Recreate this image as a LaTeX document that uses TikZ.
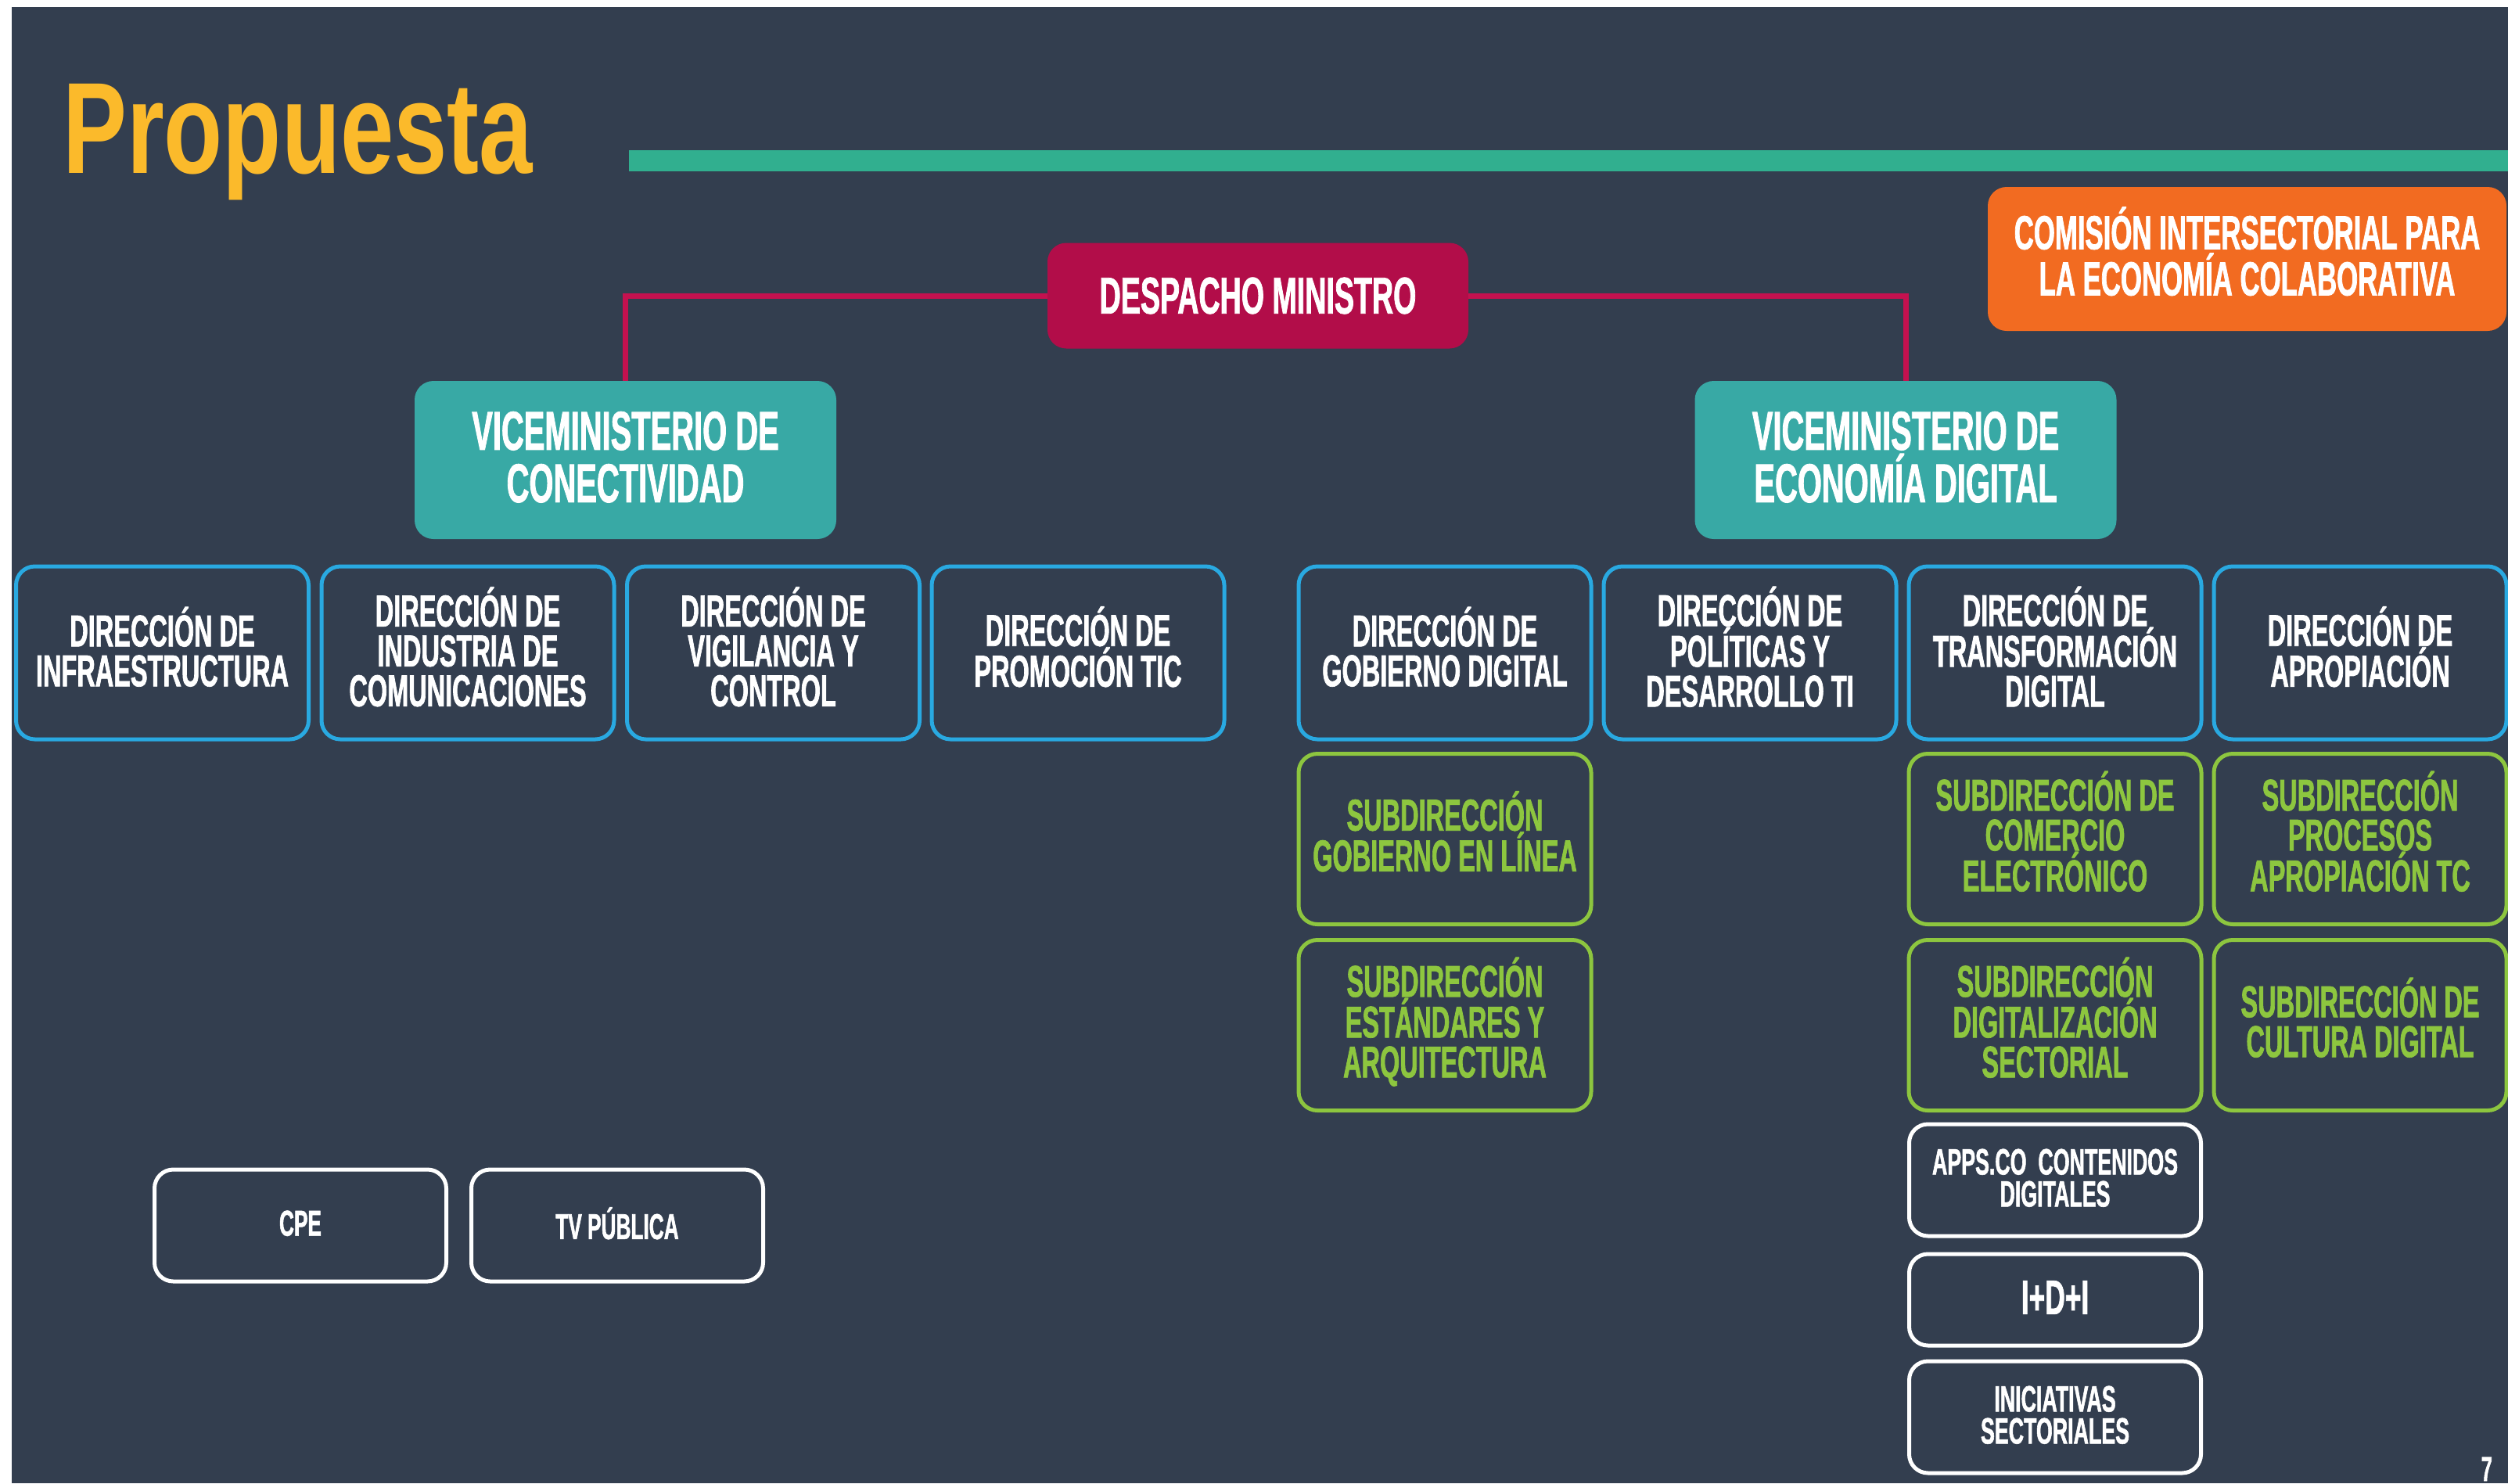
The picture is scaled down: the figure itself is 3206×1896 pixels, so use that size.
\documentclass[tikz,border=0pt]{standalone}
\usepackage{fontspec}
\setmainfont{Liberation Sans}
\newfontfamily\condfam[FakeStretch=0.57,FakeBold=1.2]{Liberation Sans}
\newfontfamily\titlefam[FakeStretch=0.74]{Liberation Sans}
\definecolor{bgc}{HTML}{333E4F}
\definecolor{ctitle}{HTML}{FBBA2B}
\definecolor{cline}{HTML}{31AF8F}
\definecolor{ccrim}{HTML}{B20D49}
\definecolor{cconn}{HTML}{C4114F}
\definecolor{cteal}{HTML}{38A9A5}
\definecolor{corange}{HTML}{F26B21}
\definecolor{cblue}{HTML}{29A9E1}
\definecolor{cgreen}{HTML}{8DC63F}
\newcommand\dirfont{\condfam\bfseries\fontsize{57}{51}\selectfont}
\newcommand\vicefont{\condfam\bfseries\fontsize{70}{67}\selectfont}
\newcommand\despfont{\condfam\bfseries\fontsize{66}{60}\selectfont}
\newcommand\comfont{\condfam\bfseries\fontsize{61}{59}\selectfont}
\newcommand\smallfont{\condfam\bfseries\fontsize{47}{41}\selectfont}
\tikzset{
  lift/.style={execute at end node={\rule[-#1]{0pt}{0pt}}},
  base/.style={rounded corners=24pt, align=center, inner sep=0pt, text=white},
  dirbox/.style={base, draw=cblue, line width=5pt, fill=bgc, font=\dirfont,
    minimum width=374pt, minimum height=221pt, lift=16pt},
  subbox/.style={base, draw=cgreen, line width=5pt, fill=bgc, text=cgreen, font=\dirfont,
    minimum width=374pt, minimum height=218pt, lift=20pt},
  whitebox/.style={base, draw=white, line width=5pt, fill=bgc, font=\smallfont,
    minimum width=373pt, minimum height=143pt, lift=6pt},
  vicebox/.style={base, fill=cteal, font=\vicefont, minimum width=539pt, minimum height=202pt, lift=8pt},
  conn/.style={draw=cconn, line width=7pt}
}
\begin{document}
\begin{tikzpicture}[x=1pt,y=-1pt]
\useasboundingbox (0,0) rectangle (3206,1896);
\fill[white] (0,0) rectangle (3206,1896);
\fill[bgc] (15,9) rectangle (3206,1896);
% title and rule
\node[anchor=base west, inner sep=0pt, text=ctitle, font={\titlefam\bfseries\fontsize{166}{170}\selectfont}] (title) at (80,221) {Propuesta};
\fill[cline] (804,192) rectangle (3206,219);
% top level
\node[base, fill=ccrim, font=\despfont, minimum width=538pt, minimum height=135pt] (desp) at (1608,378) {DESPACHO MINISTRO};
\node[vicebox] (vice1) at (799.5,588) {VICEMINISTERIO DE\\CONECTIVIDAD};
\node[vicebox] (vice2) at (2436,588) {VICEMINISTERIO DE\\ECONOMÍA DIGITAL};
\node[base, fill=corange, font=\comfont, minimum width=663pt, minimum height=184pt, lift=20pt] (com) at (2872.5,331) {COMISIÓN INTERSECTORIAL PARA\\LA ECONOMÍA COLABORATIVA};
\draw[conn] (desp.west) -| (vice1.north);
\draw[conn] (desp.east) -| (vice2.north);
% direcciones
\node[dirbox] (d1) at (207.5,834.5) {DIRECCIÓN DE\\INFRAESTRUCTURA};
\node[dirbox] (d2) at (598,834.5) {DIRECCIÓN DE\\INDUSTRIA DE\\COMUNICACIONES};
\node[dirbox] (d3) at (988.5,834.5) {DIRECCIÓN DE\\VIGILANCIA Y\\CONTROL};
\node[dirbox] (d4) at (1378,834.5) {DIRECCIÓN DE\\PROMOCIÓN TIC};
\node[dirbox] (d5) at (1847,834.5) {DIRECCIÓN DE\\GOBIERNO DIGITAL};
\node[dirbox] (d6) at (2237,834.5) {DIRECCIÓN DE\\POLÍTICAS Y\\DESARROLLO TI};
\node[dirbox] (d7) at (2627,834.5) {DIRECCIÓN DE\\TRANSFORMACIÓN\\DIGITAL};
\node[dirbox] (d8) at (3017,834.5) {DIRECCIÓN DE\\APROPIACIÓN};
% subdirecciones
\node[subbox] (s51) at (1847,1072.5) {SUBDIRECCIÓN\\GOBIERNO EN LÍNEA};
\node[subbox] (s52) at (1847,1310.5) {SUBDIRECCIÓN\\ESTÁNDARES Y\\ARQUITECTURA};
\node[subbox] (s71) at (2627,1072.5) {SUBDIRECCIÓN DE\\COMERCIO\\ELECTRÓNICO};
\node[subbox] (s72) at (2627,1310.5) {SUBDIRECCIÓN\\DIGITALIZACIÓN\\SECTORIAL};
\node[subbox] (s81) at (3017,1072.5) {SUBDIRECCIÓN\\PROCESOS\\APROPIACIÓN TC};
\node[subbox] (s82) at (3017,1310.5) {SUBDIRECCIÓN DE\\CULTURA DIGITAL};
% white boxes
\node[whitebox] (apps) at (2627,1508.5) {APPS.CO\ \ CONTENIDOS\\DIGITALES};
\node[whitebox, minimum height=117pt, font={\condfam\bfseries\fontsize{62}{60}\selectfont}] (idi) at (2627,1661.5) {I+D+I};
\node[whitebox] (inic) at (2627,1811.5) {INICIATIVAS\\SECTORIALES};
\node[whitebox, font={\condfam\bfseries\fontsize{46}{41}\selectfont}] (cpe) at (384,1566.5) {CPE};
\node[whitebox, font={\condfam\bfseries\fontsize{46}{41}\selectfont}] (tvp) at (789,1566.5) {TV PÚBLICA};
% page number
\node[anchor=base east, inner sep=0pt, text=white, font={\condfam\bfseries\fontsize{44}{44}\selectfont}] (pnum) at (3186,1893) {7};
\end{tikzpicture}
\end{document}
